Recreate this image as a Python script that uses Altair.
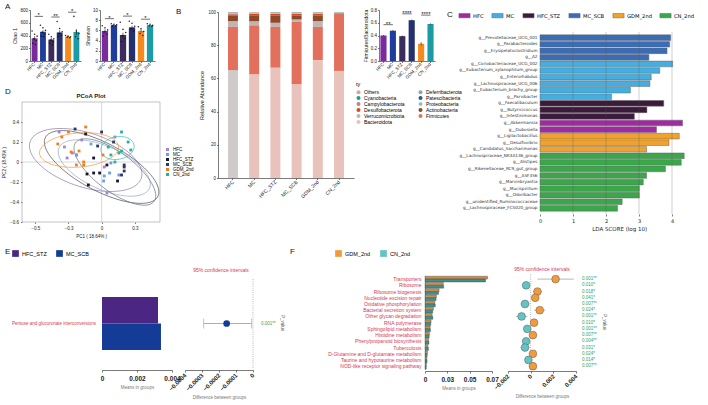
import numpy as np
import pandas as pd
import altair as alt

W, H = 708, 405
SANS = "Liberation Sans"
MPL = "DejaVu Sans"
RED = "#d8384f"
GREEN = "#3a9f55"

# ---------------- shared groups ----------------
groups = ["HFC", "MC", "HFC_STZ", "MC_SCB", "GDM_2nd", "CN_2nd"]
bar_colors = ["#7b2a9e", "#1f3d9c", "#3c2c5e", "#24306f", "#f68a1e", "#1c9ba6"]
sig_pairs = [("HFC", "MC"), ("HFC_STZ", "MC_SCB"), ("GDM_2nd", "CN_2nd")]

# ---------------- A: alpha diversity ----------------
chao1_mean = [356, 458, 336, 448, 380, 455]
chao1_sem = [32, 26, 24, 34, 8, 45]
chao1_dots = [
    [470, 420, 390, 350, 320, 280, 260],
    [560, 520, 480, 450, 420, 390, 380],
    [420, 380, 350, 330, 300, 280, 250],
    [620, 510, 460, 430, 400, 380],
    [400, 390, 380, 372, 365],
    [700, 470, 430, 380, 350],
]
chao1_bracket = [700, 690, 765]
chao1_stars = ["*", "**", "*"]

shannon_mean = [5.9, 7.0, 5.1, 6.6, 5.9, 7.0]
shannon_sem = [0.3, 0.08, 0.45, 0.3, 0.25, 0.08]
shannon_dots = [
    [6.9, 6.5, 6.1, 5.7, 5.3, 4.9],
    [7.3, 7.2, 7.1, 7.0, 6.9, 6.8],
    [7.6, 6.2, 5.6, 5.0, 4.4, 3.8],
    [7.8, 7.4, 6.8, 6.3, 5.9],
    [6.7, 6.3, 5.8, 5.4, 5.0],
    [7.3, 7.2, 7.0, 6.9, 6.8],
]
shannon_bracket = [8.3, 8.8, 8.2]
shannon_stars = ["*", "*", "*"]

# ---------------- B: phylum composition ----------------
phyla = ["Bacteroidota", "Firmicutes", "Verrucomicrobiota", "Actinobacteria",
         "Desulfobacterota", "Campylobacterota", "Proteobacteria",
         "Patescibacteria", "Deferribacterota", "Cyanobacteria", "Others"]
abundance = [
    [65.0, 26.0, 3.5, 3.5, 0.6, 0.3, 0.6, 0.1, 0.2, 0.1, 0.1],
    [62.5, 29.5, 2.5, 3.5, 0.8, 0.2, 0.5, 0.1, 0.2, 0.1, 0.1],
    [66.5, 24.5, 2.5, 4.5, 0.8, 0.2, 0.5, 0.1, 0.2, 0.1, 0.1],
    [56.5, 37.5, 1.5, 2.5, 0.8, 0.2, 0.5, 0.1, 0.2, 0.1, 0.1],
    [71.0, 20.0, 3.5, 3.5, 0.8, 0.2, 0.5, 0.1, 0.2, 0.1, 0.1],
    [64.5, 34.5, 0.2, 0.2, 0.1, 0.0, 0.3, 0.0, 0.1, 0.05, 0.05],
]
# legend entries fill the first column, then the second
legend_phyla = ["Others", "Cyanobacteria", "Campylobacterota", "Desulfobacterota",
                "Verrucomicrobiota", "Bacteroidota", "Deferribacterota", "Patescibacteria",
                "Proteobacteria", "Actinobacteria", "Firmicutes"]
legend_phyla_colors = ["#d6a4a2", "#1a9e8a", "#c98080", "#d9481f", "#c2b4b1", "#e9c3bb",
                       "#8fa6b0", "#2a5a85", "#8cc7c2", "#8c4a2a", "#e2705c"]

fb_ratio = [0.40, 0.475, 0.39, 0.64, 0.27, 0.58]
fb_sem = [0.008, 0.01, 0.01, 0.01, 0.025, 0.01]
fb_bracket = [0.57, 0.74, 0.72]
fb_stars = ["**", "****", "****"]

# ---------------- C: LEfSe ----------------
lda_taxa = [
    "g__Prevotellaceae_UCG_001", "g__Parabacteroides", "g__Erysipelatoclostridium", "g__A2",
    "g__Coriobacteriaceae_UCG_002", "g__Eubacterium_xylanophilum_group", "g__Enterorhabdus",
    "g__Lachnospiraceae_UCG_006", "g__Eubacterium_brachy_group", "g__Parvibacter",
    "g__Faecalibaculum", "g__Butyricicoccus", "g__Intestinimonas",
    "g__Akkermansia", "g__Dubosiella",
    "g__Ligilactobacillus", "g__Desulfovibrio", "g__Candidatus_Saccharimonas",
    "g__Lachnospiraceae_NK4A136_group", "g__Alistipes", "g__Rikenellaceae_RC9_gut_group",
    "g__ASF356", "g__Marvinbryantia", "g__Mucispirillum", "g__Odoribacter",
    "g__unidentified_Ruminococcaceae", "g__Lachnospiraceae_FCS020_group",
]
lda_group = (["MC_SCB"] * 4 + ["MC"] * 6 + ["HFC_STZ"] * 3 + ["HFC"] * 2
             + ["GDM_2nd"] * 3 + ["CN_2nd"] * 9)
lda_score = [3.96, 3.93, 3.85, 3.30, 4.02, 3.63, 3.37, 3.33, 2.74, 2.17,
             3.75, 3.24, 2.86, 4.32, 3.53, 4.22, 3.91, 3.23,
             4.37, 4.28, 3.80, 3.23, 3.13, 3.01, 3.01, 2.49, 2.35]
lda_colors = ["#a02aa0", "#45aee0", "#3b1a3c", "#3a6db5", "#f2a22a", "#3aa84a"]

# ---------------- D: PCoA ----------------
pcoa_colors = ["#9f86d6", "#6c9ee6", "#191533", "#2b3a63", "#f07e1c", "#22b3a3"]
pcoa_pc1 = [
    [-0.26, -0.22, -0.19, 0.02, 0.04, -0.28, -0.32, -0.15],
    [0.02, 0.015, 0.06, 0.13, 0.07, -0.19, -0.08, 0.10],
    [-0.11, -0.06, -0.015, -0.10, 0.04, 0.12, -0.06, -0.12],
    [0.17, 0.17, 0.15, 0.17, -0.03, 0.0, 0.09, -0.20],
    [-0.19, -0.135, -0.135, -0.17, -0.23, 0.01, -0.30, -0.25, -0.33, -0.12],
    [0.07, 0.13, 0.15, 0.10, 0.20, 0.15, 0.05, 0.22],
]
pcoa_pc2 = [
    [0.04, 0.09, 0.07, -0.05, -0.31, 0.15, 0.30, 0.22],
    [-0.14, -0.19, -0.11, -0.13, -0.01, 0.07, 0.18, 0.25],
    [-0.12, -0.11, -0.11, -0.23, -0.03, -0.19, 0.04, 0.28],
    [-0.03, -0.05, -0.13, -0.09, 0.16, 0.30, 0.20, 0.33],
    [-0.03, 0.0, -0.03, 0.11, 0.10, 0.07, 0.25, 0.30, 0.18, 0.35],
    [0.07, 0.09, 0.11, 0.0, 0.20, 0.30, 0.15, 0.12],
]
ell_cx = [-0.12, 0.02, 0.0, 0.10, -0.17, 0.12]
ell_cy = [0.02, -0.06, -0.05, -0.10, 0.12, 0.14]
ell_a = [0.46, 0.40, 0.52, 0.42, 0.30, 0.13]
ell_b = [0.26, 0.20, 0.22, 0.17, 0.17, 0.11]
ell_angle = [-28, -35, -38, -48, 8, 30]
ell_colors = ["#8c7aa8", "#8fa8c8", "#4a4a5a", "#6a6f80", "#f0963a", "#3ab8a8"]

# ---------------- E: HFC_STZ vs MC_SCB ----------------
e_groups = ["HFC_STZ", "MC_SCB"]
e_colors = ["#4b2682", "#143c96"]
e_pathway = ["Pentose and glucuronate interconversions"]
e_mean = [0.00320, 0.00337]
e_diff = [-0.000155]
e_ci_lo = [-0.000290]
e_ci_hi = [-0.000008]
e_p = ["0.001**"]

# ---------------- F: GDM_2nd vs CN_2nd ----------------
f_groups = ["GDM_2nd", "CN_2nd"]
f_colors = ["#f39b3c", "#64c4c4"]
f_pathways = [
    "Transporters", "Ribosome", "Ribosome biogenesis", "Nucleotide excision repair",
    "Oxidative phosphorylation", "Bacterial secretion system", "Other glycan degradation",
    "RNA polymerase", "Sphingolipid metabolism", "Histidine metabolism",
    "Phenylpropanoid biosynthesis", "Tuberculosis",
    "D-Glutamine and D-glutamate metabolism", "Taurine and hypotaurine metabolism",
    "NOD-like receptor signaling pathway",
]
f_mean_gdm = [0.0700, 0.0205, 0.0158, 0.0128, 0.0110, 0.0094, 0.0080, 0.0068,
              0.0058, 0.0049, 0.0041, 0.0034, 0.0027, 0.0021, 0.0016]
f_mean_cn = [0.0678, 0.0209, 0.0152, 0.0124, 0.0115, 0.0086, 0.0088, 0.0065,
             0.0061, 0.0047, 0.0045, 0.0039, 0.0025, 0.0023, 0.0014]
f_diff = [0.0022, -0.0004, 0.0006, 0.0004, -0.0005, 0.0008, -0.0008, 0.0003,
          -0.0003, 0.0002, -0.0004, -0.0005, 0.0002, -0.0002, 0.0002]
f_ci_lo = [0.0006, -0.0007, 0.0002, 0.0001, -0.0009, 0.0003, -0.0013, 0.0001,
           -0.0006, 0.00002, -0.0007, -0.0009, 0.00002, -0.0004, 0.00002]
f_ci_hi = [0.0038, -0.0001, 0.0010, 0.0007, -0.0001, 0.0013, -0.0003, 0.0005,
           -0.00002, 0.0004, -0.0001, -0.0001, 0.0004, -0.00002, 0.0004]
f_p = ["0.001**", "0.010*", "0.018*", "0.041*", "0.007**", "0.024*", "0.001**",
       "0.010*", "0.001**", "0.007**", "0.004**", "0.031*", "0.024*", "0.014*", "0.007**"]


# ---------------- helpers ----------------
def band(rng, pi, po, domain):
    return alt.Scale(type="band", domain=list(domain), range=list(rng),
                     paddingInner=pi, paddingOuter=po)


def lin(dom, rng):
    return alt.Scale(type="linear", domain=list(dom), range=list(rng), nice=False, zero=False)


def centers(rng, n, pi, po):
    a, b = rng
    step = (b - a) / (n - pi + 2 * po)
    return [a + (po + i) * step + (1 - pi) * step / 2 for i in range(n)]


def cat_axis(y_at, size=4.5):
    return alt.Axis(orient="bottom", offset=y_at - H, labelAngle=-45, labelAlign="right",
                    labelBaseline="middle", title=None, labelFontSize=size,
                    tickSize=1.5, labelPadding=1)


def note(text, x, y, size=5, color="#222", weight="normal", align="center",
         angle=0, font=SANS, baseline="middle"):
    return alt.Chart(pd.DataFrame({"t": [text]})).mark_text(
        fontSize=size, color=color, fontWeight=weight, align=align, angle=angle,
        font=font, baseline=baseline
    ).encode(x=alt.value(x), y=alt.value(y), text="t:N")


def bar_panel(values, sem, dots, brackets, stars, xr, yd, yr, ticks, ytitle, fmt,
              pi=0.3, po=0.2):
    xs = band(xr, pi, po, groups)
    ys = lin(yd, yr)
    df = pd.DataFrame({"group": groups, "v": values,
                       "lo": [v - s for v, s in zip(values, sem)],
                       "hi": [v + s for v, s in zip(values, sem)]})
    bars = alt.Chart(df).mark_bar().encode(
        x=alt.X("group:N", scale=xs, axis=cat_axis(yr[0])),
        y=alt.Y("v:Q", scale=ys, axis=alt.Axis(
            orient="left", offset=-xr[0], values=ticks, format=fmt, title=ytitle,
            labelFontSize=4.5, titleFontSize=5, tickSize=1.5, labelPadding=1, titlePadding=2)),
        color=alt.Color("group:N", scale=alt.Scale(domain=groups, range=bar_colors), legend=None),
    )
    err = alt.Chart(df).mark_rule(color="#111", strokeWidth=0.6).encode(
        x=alt.X("group:N", scale=xs, axis=None),
        y=alt.Y("lo:Q", scale=ys, axis=None), y2="hi:Q")
    out = [bars, err]
    if dots:
        rows = []
        for g, vals in zip(groups, dots):
            for i, v in enumerate(vals):
                rows.append({"group": g, "v": v, "k": (i * 3) % 7})
        pts = alt.Chart(pd.DataFrame(rows)).mark_circle(size=2.5, color="#111", opacity=0.9).encode(
            x=alt.X("group:N", scale=xs, axis=None),
            xOffset=alt.XOffset("k:O", scale=alt.Scale(domain=list(range(7)))),
            y=alt.Y("v:Q", scale=ys, axis=None))
        out.append(pts)
    cs = centers(xr, 6, pi, po)
    idx = lin((0, 5), (cs[0], cs[5]))
    sd = pd.DataFrame({
        "i1": [groups.index(a) for a, _ in sig_pairs],
        "i2": [groups.index(b) for _, b in sig_pairs],
        "mid": [(groups.index(a) + groups.index(b)) / 2 for a, b in sig_pairs],
        "y": brackets, "lab": stars})
    br = alt.Chart(sd).mark_rule(color="#111", strokeWidth=0.6).encode(
        x=alt.X("i1:Q", scale=idx, axis=None), x2="i2:Q",
        y=alt.Y("y:Q", scale=ys, axis=None))
    st = alt.Chart(sd).mark_text(fontSize=6, baseline="bottom", dy=2, color="#111").encode(
        x=alt.X("mid:Q", scale=idx, axis=None),
        y=alt.Y("y:Q", scale=ys, axis=None), text="lab:N")
    return out + [br, st]


layers = []

# ---------------- panel A ----------------
layers += bar_panel(chao1_mean, chao1_sem, chao1_dots, chao1_bracket, chao1_stars,
                    (30, 81), (0, 800), (61, 10), [0, 200, 400, 600, 800], "Chao 1", "d")
layers += bar_panel(shannon_mean, shannon_sem, shannon_dots, shannon_bracket, shannon_stars,
                    (100, 155), (0, 10), (61, 10), [0, 2, 4, 6, 8, 10], "Shannon", "d")

# ---------------- panel B ----------------
b_rows = []
for g, vals in zip(groups, abundance):
    for k, (ph, v) in enumerate(zip(phyla, vals)):
        b_rows.append({"group": g, "phylum": ph, "pct": v, "ord": k})
b_x = band((218, 354), 0.53, 0.47, groups)
b_y = lin((0, 100), (178, 12))
stack = alt.Chart(pd.DataFrame(b_rows)).mark_bar().encode(
    x=alt.X("group:N", scale=b_x, axis=cat_axis(178, 5)),
    y=alt.Y("pct:Q", stack="zero", scale=b_y, axis=alt.Axis(
        orient="left", offset=-218, values=[0, 20, 40, 60, 80, 100], title="Relative Abundance",
        labelFontSize=4.5, titleFontSize=5.5, tickSize=1.5, labelPadding=1, titlePadding=3)),
    color=alt.condition(
        "datum.group === 'HFC' && datum.phylum === 'Bacteroidota'",
        alt.value("#cfcbcb"),
        alt.Color("phylum:N", scale=alt.Scale(domain=legend_phyla, range=legend_phyla_colors),
                  legend=alt.Legend(orient="none", legendX=356, legendY=82, title="ty",
                                    columns=2, symbolType="circle", symbolSize=16,
                                    labelFontSize=5, titleFontSize=5.5, rowPadding=0,
                                    columnPadding=13, titlePadding=2, padding=0,
                                    symbolStrokeWidth=0, labelOffset=3))),
    order=alt.Order("ord:Q", sort="ascending"),
)
layers.append(stack)
layers += bar_panel(fb_ratio, fb_sem, None, fb_bracket, fb_stars,
                    (379, 435), (0, 0.8), (61, 10), [0, 0.2, 0.4, 0.6, 0.8],
                    "Firmicutes/Bacteroidota", ".1f", pi=0.35, po=0.15)

# ---------------- panel C ----------------
c_y = band((34.4, 211.6), 0.14, 0.07, lda_taxa)
c_x = lin((0, 4.8), (540, 698.4))
df_c = pd.DataFrame({"taxon": lda_taxa, "group": lda_group, "score": lda_score})
lda = alt.Chart(df_c).mark_bar(stroke="#666", strokeWidth=0.5).encode(
    y=alt.Y("taxon:N", scale=c_y, axis=alt.Axis(
        orient="left", offset=-540, domain=False, ticks=False, title=None,
        labelFontSize=4.2, labelFont=MPL, labelPadding=3, labelColor="#333")),
    x=alt.X("score:Q", scale=c_x, axis=alt.Axis(
        orient="bottom", offset=214 - H, values=[0, 1, 2, 3, 4], domain=False,
        title="LDA SCORE (log 10)", labelFont=MPL, titleFont=MPL, labelFontSize=5,
        titleFontSize=5.5, labelFlush=False, tickSize=2, labelPadding=2, titlePadding=3)),
    color=alt.Color("group:N", scale=alt.Scale(domain=groups, range=lda_colors),
                    legend=alt.Legend(orient="none", legendX=460, legendY=11, direction="horizontal",
                                      title=None, symbolType="M-1.4,-0.55H1.4V0.55H-1.4Z",
                                      symbolSize=64, labelFontSize=5.2, labelFont=MPL,
                                      columnPadding=6, padding=0,
                                      symbolStrokeWidth=0.5, symbolStrokeColor="#666",
                                      labelOffset=4)),
)
grid = alt.Chart(pd.DataFrame({"v": [1, 2, 3, 4], "y0": [0] * 4, "y1": [1] * 4})).mark_rule(
    color="#555", strokeWidth=0.5, opacity=0.55).encode(
    x=alt.X("v:Q", scale=c_x, axis=None),
    y=alt.Y("y0:Q", scale=lin((0, 1), (214, 32)), axis=None), y2="y1:Q")
layers += [lda, grid]

# ---------------- panel D ----------------
d_x = lin((-0.6, 0.44), (22, 160))
d_y = lin((-0.6, 0.6), (222, 102))
t = np.linspace(0, 2 * np.pi, 73)
ell_rows = []
for g, cx, cy, a, b, ang in zip(groups, ell_cx, ell_cy, ell_a, ell_b, ell_angle):
    th = np.deg2rad(ang)
    ex = cx + a * np.cos(t) * np.cos(th) - b * np.sin(t) * np.sin(th)
    ey = cy + a * np.cos(t) * np.sin(th) + b * np.sin(t) * np.cos(th)
    for i, (px, py) in enumerate(zip(ex, ey)):
        ell_rows.append({"group": g, "i": i, "x": px, "y": py})
frame = alt.Chart(pd.DataFrame({"x0": [-0.6], "x1": [0.44], "y0": [-0.6], "y1": [0.6]})).mark_rect(
    fillOpacity=0, stroke="#9a9a9a", strokeWidth=0.6).encode(
    x=alt.X("x0:Q", scale=d_x, axis=alt.Axis(
        orient="bottom", offset=222 - H, values=[-0.5, -0.25, 0, 0.25], format="~g",
        title="PC1 ( 18.64% )", labelFontSize=4.5, titleFontSize=4.5, labelFlush=False,
        tickSize=1.5, domain=False, labelPadding=2, titlePadding=3)),
    x2="x1:Q",
    y=alt.Y("y0:Q", scale=d_y, axis=alt.Axis(
        orient="left", offset=-22, values=[-0.6, -0.4, -0.2, 0, 0.2, 0.4], format="~g",
        title="PC2 ( 18.43% )", labelFontSize=4.5, titleFontSize=4.5, tickSize=1.5,
        domain=False, labelPadding=2, titlePadding=3)),
    y2="y1:Q")
zero_v = alt.Chart(pd.DataFrame({"x": [0], "y0": [-0.6], "y1": [0.6]})).mark_rule(
    color="#c8c8c8", strokeWidth=0.7).encode(
    x=alt.X("x:Q", scale=d_x, axis=None), y=alt.Y("y0:Q", scale=d_y, axis=None), y2="y1:Q")
zero_h = alt.Chart(pd.DataFrame({"y": [0], "x0": [-0.6], "x1": [0.44]})).mark_rule(
    color="#c8c8c8", strokeWidth=0.7).encode(
    y=alt.Y("y:Q", scale=d_y, axis=None), x=alt.X("x0:Q", scale=d_x, axis=None), x2="x1:Q")
ells = alt.Chart(pd.DataFrame(ell_rows)).mark_line(strokeWidth=0.7, clip=True).encode(
    x=alt.X("x:Q", scale=d_x, axis=None), y=alt.Y("y:Q", scale=d_y, axis=None),
    color=alt.Color("group:N", scale=alt.Scale(domain=groups, range=ell_colors), legend=None),
    detail="group:N", order="i:Q")
p_rows = []
for g, xs_, ys_ in zip(groups, pcoa_pc1, pcoa_pc2):
    for px, py in zip(xs_, ys_):
        p_rows.append({"group": g, "pc1": px, "pc2": py})
pts = alt.Chart(pd.DataFrame(p_rows)).mark_square(size=8, opacity=1).encode(
    x=alt.X("pc1:Q", scale=d_x, axis=None), y=alt.Y("pc2:Q", scale=d_y, axis=None),
    color=alt.Color("group:N", scale=alt.Scale(domain=groups, range=pcoa_colors),
                    legend=alt.Legend(orient="none", legendX=165, legendY=147, title=None,
                                      symbolType="square", symbolSize=9, labelFontSize=4.5,
                                      rowPadding=0, padding=0, labelOffset=3)))
layers += [frame, zero_v, zero_h, ells, pts, note("PCoA Plot", 91, 96, 6, weight="bold")]

# ---------------- panel E ----------------
e_x = lin((0, 0.004), (102, 172))
e_band = band((297, 350), 0, 0, e_groups)
e_path = band((297, 350), 0, 0, e_pathway)
e_dx = lin((-0.0004, 0), (185, 253))
df_e = pd.DataFrame({"group": e_groups, "mean": e_mean})
e_bars = alt.Chart(df_e).mark_bar().encode(
    y=alt.Y("group:N", scale=e_band, axis=None),
    x=alt.X("mean:Q", scale=e_x, axis=alt.Axis(
        orient="bottom", offset=370 - H, values=[0, 0.002, 0.004], format="~g",
        title="Means in groups", labelFontSize=6.5, labelFontWeight="bold", titleFontSize=4.5,
        titleColor="#777", labelFlush=False, tickSize=2, labelPadding=3, titlePadding=3)),
    color=alt.Color("group:N", scale=alt.Scale(domain=e_groups, range=e_colors),
                    legend=alt.Legend(orient="none", legendX=12, legendY=250, direction="horizontal",
                                      title=None, symbolType="square", symbolSize=45,
                                      labelFontSize=5.5, columnPadding=9, padding=0,
                                      symbolStrokeWidth=0, labelOffset=3)))
df_ed = pd.DataFrame({"p": e_pathway, "d": e_diff, "lo": e_ci_lo, "hi": e_ci_hi, "pv": e_p})
e_label = alt.Chart(df_ed).mark_text(align="right", fontSize=4.5, color=RED).encode(
    y=alt.Y("p:N", scale=e_path, axis=None), x=alt.value(96), text="p:N")
e_ci = alt.Chart(df_ed).mark_rule(color="#9a9a9a", strokeWidth=0.8).encode(
    y=alt.Y("p:N", scale=e_path, axis=None),
    x=alt.X("lo:Q", scale=e_dx, axis=alt.Axis(
        orient="bottom", offset=370 - H,
        values=[-0.0004, -0.0003, -0.0002, -0.0001, 0], format="~g",
        title="Difference between groups", labelAngle=-45, labelAlign="right",
        labelBaseline="middle", labelFontSize=6, labelFontWeight="bold", titleFontSize=4.5,
        titleColor="#777", labelFlush=False, labelOverlap=False, tickSize=2,
        labelPadding=2, titlePadding=3)),
    x2="hi:Q")
e_caps = [alt.Chart(df_ed).mark_tick(color="#9a9a9a", thickness=0.8, size=10, orient="vertical").encode(
    y=alt.Y("p:N", scale=e_path, axis=None), x=alt.X(f"{c}:Q", scale=e_dx, axis=None))
    for c in ("lo", "hi")]
e_pt = alt.Chart(df_ed).mark_circle(size=45, color="#143c96", opacity=1).encode(
    y=alt.Y("p:N", scale=e_path, axis=None), x=alt.X("d:Q", scale=e_dx, axis=None))
e_zero = alt.Chart(pd.DataFrame({"x": [0], "y0": [0], "y1": [1]})).mark_rule(
    color="#999", strokeWidth=0.7, strokeDash=[1, 1.2]).encode(
    x=alt.X("x:Q", scale=e_dx, axis=None),
    y=alt.Y("y0:Q", scale=lin((0, 1), (368, 278)), axis=None), y2="y1:Q")
e_pv = alt.Chart(df_ed).mark_text(align="left", fontSize=4.5, color=GREEN).encode(
    y=alt.Y("p:N", scale=e_path, axis=None), x=alt.value(261), text="pv:N")
layers += [e_bars, e_label, e_zero, e_ci] + e_caps + [e_pt, e_pv,
           note("95% confidence intervals", 221, 270, 5, RED),
           note("P_value", 282, 323, 4.5, "#555", angle=90)]

# ---------------- panel F ----------------
f_y = band((276, 369.3), 0.08, 0.04, f_pathways)
f_x = lin((0, 0.075), (425, 492))
f_dx = lin((-0.002, 0.004), (508, 576))
fm_rows = []
for p, a, b in zip(f_pathways, f_mean_gdm, f_mean_cn):
    fm_rows.append({"p": p, "group": "GDM_2nd", "m": a})
    fm_rows.append({"p": p, "group": "CN_2nd", "m": b})
f_bars = alt.Chart(pd.DataFrame(fm_rows)).mark_bar(stroke="#1f3f3f", strokeWidth=0.35).encode(
    y=alt.Y("p:N", scale=f_y, axis=alt.Axis(
        orient="left", offset=-425, ticks=False, title=None, labelColor=RED,
        labelFontSize=5, labelPadding=4, domainColor="#333")),
    yOffset=alt.YOffset("group:N", scale=alt.Scale(domain=f_groups)),
    x=alt.X("m:Q", scale=f_x, axis=alt.Axis(
        orient="bottom", offset=371 - H, values=[0, 0.025, 0.05, 0.075], format="~g",
        title="Means in groups", labelFontSize=6.5, labelFontWeight="bold", titleFontSize=4.5,
        titleColor="#777", labelFlush=False, tickSize=2, labelPadding=3, titlePadding=3)),
    color=alt.Color("group:N", scale=alt.Scale(domain=f_groups, range=["#d08a4a", "#3f8f8f"]),
                    legend=None))
f_legend_src = alt.Chart(pd.DataFrame({"group": f_groups, "v": [0, 0]})).mark_square(opacity=0).encode(
    x=alt.X("v:Q", scale=f_dx, axis=None),
    color=alt.Color("group:N", scale=alt.Scale(domain=f_groups, range=f_colors),
                    legend=alt.Legend(orient="none", legendX=335, legendY=250, direction="horizontal",
                                      title=None, symbolType="square", symbolSize=45,
                                      symbolOpacity=1, labelFontSize=5.5, columnPadding=9,
                                      padding=0, symbolStrokeWidth=0, labelOffset=3)))
df_fd = pd.DataFrame({"p": f_pathways, "d": f_diff, "lo": f_ci_lo, "hi": f_ci_hi, "pv": f_p,
                      "side": ["GDM_2nd" if v > 0 else "CN_2nd" for v in f_diff]})
f_zero = alt.Chart(pd.DataFrame({"x": [0], "y0": [0], "y1": [1]})).mark_rule(
    color="#999", strokeWidth=0.7, strokeDash=[1, 1.2]).encode(
    x=alt.X("x:Q", scale=f_dx, axis=None),
    y=alt.Y("y0:Q", scale=lin((0, 1), (370, 274)), axis=None), y2="y1:Q")
f_ci = alt.Chart(df_fd).mark_rule(color="#9a9a9a", strokeWidth=0.7).encode(
    y=alt.Y("p:N", scale=f_y, axis=None),
    x=alt.X("lo:Q", scale=f_dx, axis=alt.Axis(
        orient="bottom", offset=371 - H, values=[-0.002, 0, 0.002, 0.004], format="~g",
        title="Difference between groups", labelAngle=-45, labelAlign="right",
        labelBaseline="middle", labelFontSize=6, labelFontWeight="bold", titleFontSize=4.5,
        titleColor="#777", labelFlush=False, labelOverlap=False, tickSize=2,
        labelPadding=2, titlePadding=3)),
    x2="hi:Q")
f_pts = alt.Chart(df_fd).mark_circle(size=60, opacity=1, stroke="#5a5a5a", strokeWidth=0.5).encode(
    y=alt.Y("p:N", scale=f_y, axis=None), x=alt.X("d:Q", scale=f_dx, axis=None),
    color=alt.Color("side:N", scale=alt.Scale(domain=f_groups, range=f_colors), legend=None))
f_pv = alt.Chart(df_fd).mark_text(align="left", fontSize=4.5, color=GREEN).encode(
    y=alt.Y("p:N", scale=f_y, axis=None), x=alt.value(582), text="pv:N")
layers += [f_bars, f_legend_src, f_zero, f_ci, f_pts, f_pv,
           note("95% confidence intervals", 542, 269, 5, RED),
           note("P_value", 604, 322, 4.5, "#555", angle=90)]

# ---------------- panel letters ----------------
for letter, lx, ly in [("A", 5, 7), ("B", 176, 12), ("C", 447, 15),
                       ("D", 5, 92), ("E", 5, 252), ("F", 290, 252)]:
    layers.append(note(letter, lx, ly, 8, "#111", align="left"))

chart = alt.layer(*layers).resolve_scale(
    x="independent", y="independent", color="independent",
    xOffset="independent", yOffset="independent",
).properties(
    width=W, height=H, padding=0, autosize=alt.AutoSizeParams(type="none"),
    background="white",
).configure_view(stroke=None).configure_axis(
    labelFont=SANS, titleFont=SANS, domainColor="#222", tickColor="#222",
    labelColor="#222", titleColor="#222", domainWidth=0.6, tickWidth=0.6,
    grid=False, titleFontWeight="normal",
).configure_legend(labelFont=SANS, titleFont=SANS, titleFontWeight="normal").configure_text(font=SANS)

chart.save("out.html", embed_options={"renderer": "svg", "actions": False})
